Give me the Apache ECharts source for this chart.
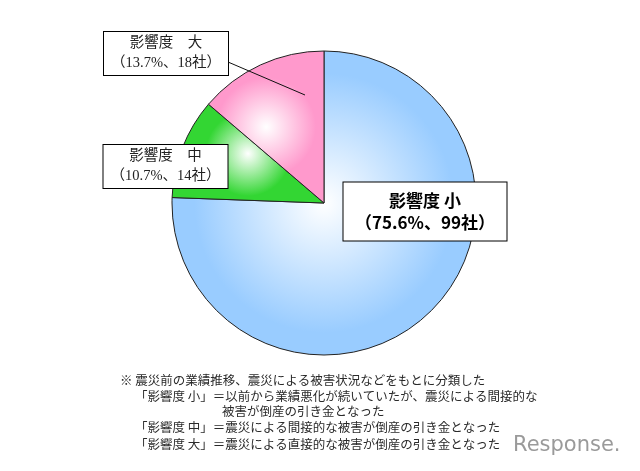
<!DOCTYPE html>
<html><head><meta charset="utf-8">
<script src="https://cdn.jsdelivr.net/npm/echarts@6/dist/echarts.min.js"></script>
<style>html,body{margin:0;padding:0;background:#fff}#c{width:640px;height:471px}</style>
</head><body><div id="c"></div>
<script>
// ---- data ----
const categories = ['影響度 小', '影響度 中', '影響度 大'];
const companies = [99, 14, 18];
const sliceColors = ['#99ccff', '#33d633', '#ff99cc'];
const noteLines = [
  '※ 震災前の業績推移、震災による被害状況などをもとに分類した',
  '「影響度 小」＝以前から業績悪化が続いていたが、震災による間接的な',
  '被害が倒産の引き金となった',
  '「影響度 中」＝震災による間接的な被害が倒産の引き金となった',
  '「影響度 大」＝震災による直接的な被害が倒産の引き金となった'
];
const watermark = 'Response.';

// ---- layout / style ----
const labelCenters = [[425, 211.5], [165.5, 166.5], [166, 53.5]];
const leaderLine = [[228, 62], [305, 95]];
const noteX = [120, 135, 222, 135, 135];
const noteY = [374, 390, 405, 421, 438];
const CJK = '"Noto Sans CJK JP", sans-serif';
const SERIF = '"Liberation Serif", "Noto Sans CJK JP", serif';

const bigLabel = {
  fontFamily: CJK, fontSize: 17, fontWeight: 'bold', lineHeight: 22,
  color: '#000', backgroundColor: '#fff', borderColor: '#000', borderWidth: 1,
  width: 147, padding: [7, 8], align: 'center', overflow: 'none'
};
const smallLabel = {
  fontFamily: SERIF, fontSize: 14.5, lineHeight: 20,
  color: '#222', backgroundColor: '#fff', borderColor: '#000', borderWidth: 1,
  width: 111, padding: [1.5, 6.5], align: 'center', overflow: 'none'
};

function grad(c) {
  return { type: 'radial', x: 0.5, y: 0.5, r: 0.5,
    colorStops: [{ offset: 0, color: '#ffffff' }, { offset: 0.85, color: c }, { offset: 1, color: c }] };
}

const data = categories.map((name, i) => ({
  name: name,
  value: companies[i],
  itemStyle: { color: grad(sliceColors[i]) },
  label: i === 0 ? bigLabel : smallLabel
}));

const chart = echarts.init(document.getElementById('c'), null, { renderer: 'canvas' });
chart.setOption({
  animation: false,
  backgroundColor: '#fff',
  series: [{
    type: 'pie',
    center: [324, 203],
    radius: 152,
    startAngle: 90,
    clockwise: true,
    avoidLabelOverlap: false,
    itemStyle: { borderColor: '#222', borderWidth: 1 },
    label: {
      show: true, position: 'outside',
      formatter: p => {
        const n = p.dataIndex === 0 ? p.name : p.name.replace(' ', '　');
        return n + '\n（' + p.percent.toFixed(1) + '%、' + p.value + '社）';
      }
    },
    labelLine: { show: false },
    labelLayout: p => {
      const c = labelCenters[p.dataIndex];
      return { x: c[0], y: c[1], align: 'center', verticalAlign: 'middle' };
    },
    emphasis: { disabled: true },
    data: data
  }],
  graphic: noteLines.map((t, i) => ({
    type: 'text', left: noteX[i], top: noteY[i],
    style: { text: t, fontFamily: CJK, fontSize: 12.5, fill: '#2a2a2a' }
  })).concat([{
    type: 'text', left: 513, top: 435,
    style: { text: watermark, fontFamily: '"DejaVu Sans", sans-serif', fontSize: 21, fill: '#9a9a9a' }
  }, {
    type: 'polyline', z: 100,
    shape: { points: leaderLine },
    style: { stroke: '#111', lineWidth: 1, fill: null }
  }])
});
</script>
</body></html>
